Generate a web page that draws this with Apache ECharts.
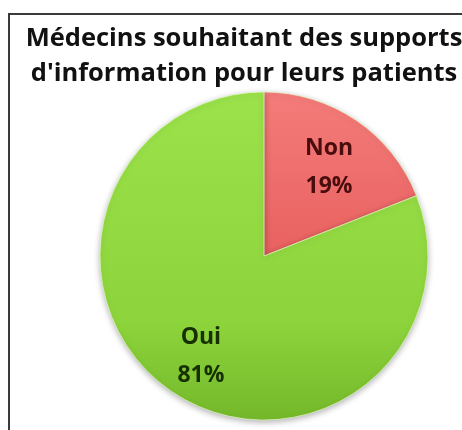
<!DOCTYPE html>
<html>
<head>
<meta charset="utf-8">
<script src="https://cdn.jsdelivr.net/npm/echarts@6/dist/echarts.min.js"></script>
<style>
  html, body { margin: 0; padding: 0; background: #ffffff; }
  #chart { width: 462px; height: 430px; }
</style>
</head>
<body>
<div id="chart"></div>
<script>
// Réponses des médecins
const categories = ['Non', 'Oui'];
const percentages = [19, 81];
const titleLines = ['Médecins souhaitant des supports', "d'information pour leurs patients"];

const sliceFills = {
  Non: { type: 'linear', x: 0, y: 0, x2: 0, y2: 1,
         colorStops: [{ offset: 0, color: '#f47c7a' }, { offset: 1, color: '#e86160' }] },
  Oui: { type: 'linear', x: 0, y: 0, x2: 0, y2: 1,
         colorStops: [{ offset: 0, color: '#9be24b' }, { offset: 0.7, color: '#8dd43c' }, { offset: 1, color: '#74b82a' }] }
};
const labelColors = { Non: '#4a0d0d', Oui: '#173000' };

const pieData = categories.map((name, i) => ({
  name, value: percentages[i],
  itemStyle: { color: sliceFills[name] }
}));
const labelData = categories.map((name, i) => ({
  name, value: percentages[i],
  label: { color: labelColors[name] }
}));

const chart = echarts.init(document.getElementById('chart'), null, { renderer: 'canvas' });
chart.setOption({
  backgroundColor: '#ffffff',
  animation: false,
  title: {
    text: titleLines.join('\n'),
    left: 239, top: 16, textAlign: 'center',
    textStyle: { fontFamily: 'Open Sans', fontWeight: 'bold', fontSize: 25.5, lineHeight: 35, color: '#111111' }
  },
  graphic: [{
    type: 'polyline', silent: true,
    shape: { points: [[9, 430], [9, 14], [462, 14]] },
    style: { stroke: '#3a3a3a', lineWidth: 2, fill: null }
  }],
  series: [{
    type: 'pie',
    center: [264, 256],
    radius: [0, 164],
    startAngle: 90,
    clockwise: true,
    silent: true,
    label: { show: false },
    labelLine: { show: false },
    itemStyle: {
      borderColor: 'rgba(230,255,200,0.6)', borderWidth: 1,
      shadowBlur: 6, shadowColor: 'rgba(0,0,0,0.3)', shadowOffsetY: 2
    },
    data: pieData
  }, {
    type: 'pie',
    center: [265, 262],
    radius: [58, 164],
    startAngle: 90,
    clockwise: true,
    silent: true,
    itemStyle: { color: 'rgba(0,0,0,0)' },
    labelLine: { show: false },
    label: {
      show: true, position: 'inside',
      formatter: p => p.name + '\n' + p.value + '%',
      fontFamily: 'Open Sans', fontWeight: 'bold', fontSize: 23, lineHeight: 38
    },
    data: labelData
  }]
});
</script>
</body>
</html>
